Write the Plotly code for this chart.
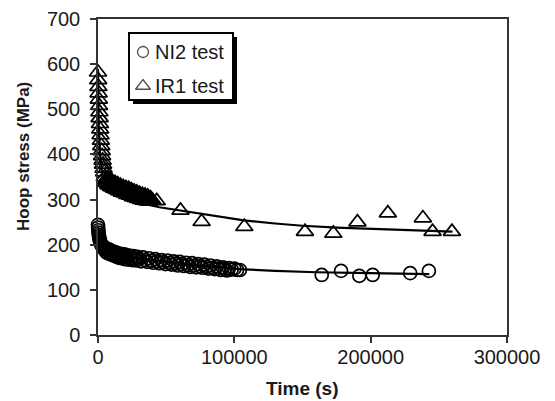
import plotly.graph_objects as go

# ---------------- data ----------------
# NI2 test (circles)
ni2_time = [0, 100, 250, 400, 600, 800, 1000, 1300, 1600, 2000, 2500, 3000, 3600, 4300,
            5000, 5500, 6000, 6500, 7000, 7500, 8000, 9000, 9500, 10000, 11000, 11500,
            12000, 13000, 13500, 14000, 15000, 15500, 16000, 17000, 17500, 18000,
            19000, 19500, 20000, 21000, 22000, 23000, 24000, 25000, 26000, 27000,
            28000, 29000, 30000, 31500, 33000, 34500, 36000, 37500, 39000, 40500,
            42000, 43500, 45000, 46500, 48000, 49500, 51000, 52500, 54000, 55500,
            57000, 58500, 60000, 61500, 63000, 64500, 66000, 67500, 69000, 70500,
            72000, 73500, 75000, 76500, 78000, 79500, 81000, 82500, 84000, 85500,
            87000, 88500, 90000, 91500, 93000, 94500, 96000, 98000, 100000, 102000,
            104100, 164100, 178300, 191700, 201500, 229000, 242700]
ni2_stress = [244, 238, 232, 227, 222, 218, 214, 210, 207, 203, 200, 197, 194, 191,
              194, 186, 190, 182, 188, 181, 190, 183, 178, 186, 180, 176,
              184, 178, 173, 182, 176, 171, 180, 174, 170, 179,
              173, 168, 178, 172, 167, 176, 170, 166, 175, 169,
              165, 173, 168, 163, 172, 166, 162, 170, 164, 160,
              168, 163, 159, 166, 161, 157, 165, 160, 156, 163,
              158, 154, 162, 157, 153, 160, 155, 151, 159, 154,
              150, 157, 152, 149, 156, 151, 147, 154, 149, 146,
              152, 147, 144, 150, 146, 143, 148, 145, 147, 144,
              144, 133, 142, 131, 133, 137, 142]

# IR1 test (triangles)
ir1_time = [0, 150, 300, 450, 600, 800, 1000, 1200, 1400, 1600, 1850, 2100, 2400, 2700,
            3000, 3350, 3700, 4100, 4500,
            5000, 5500, 6000, 6500, 7000, 7500, 8000, 8500, 9000, 9500, 10000, 10500,
            11000, 11500, 12000, 12500, 13000, 13500, 14000, 14500, 15000, 15500,
            16000, 16500, 17000, 17500, 18000, 18500, 19000, 19500, 20000, 20500,
            21000, 21500, 22000, 22500, 23000, 23500, 24000, 24500, 25000, 25500,
            26000, 26500, 27000, 27500, 28000, 28500, 29000, 29500, 30000, 30500,
            31000, 31500, 32000, 32500, 33000, 33500, 34000, 34500, 35000, 35500,
            36000, 36500, 37000, 37500, 38000, 38500, 39000, 40000,
            43100, 60500, 76000, 107300, 151800, 172600, 190300, 212600, 238300,
            245400, 259600]
ir1_stress = [582, 565, 550, 536, 522, 508, 494, 481, 468, 456, 443, 431, 419, 408,
              397, 387, 378, 369, 361,
              350, 342, 338, 347, 343, 334, 332, 343, 339, 329, 328, 340,
              335, 326, 325, 337, 332, 323, 322, 334, 329, 319,
              320, 331, 326, 316, 318, 328, 324, 314, 316, 326,
              322, 311, 314, 324, 319, 309, 312, 321, 317, 306,
              309, 318, 314, 304, 307, 316, 312, 302, 305, 313,
              309, 300, 304, 311, 307, 298, 302, 309, 305, 297,
              303, 307, 301, 296, 300, 303, 299, 298,
              297, 276, 251, 240, 229, 225, 250, 270, 259,
              229, 229]

# fitted curves
ni2_fit_time = [0, 500, 1500, 3000, 6000, 10000, 20000, 30000, 45000, 60000, 80000,
                104000, 130000, 160000, 200000, 243000]
ni2_fit_stress = [240, 222, 208, 198, 189, 183, 176, 170, 164, 158, 152,
                  146, 142, 139, 137, 135]
ir1_fit_time = [0, 500, 1500, 3000, 5000, 8000, 12000, 18000, 25000, 35000, 45000,
                60000, 75000, 90000, 107000, 130000, 150000, 175000, 200000, 225000, 260000]
ir1_fit_stress = [590, 470, 400, 360, 340, 328, 318, 308, 300, 290, 283,
                  276, 270, 262, 254, 247, 242, 238, 235, 232, 229]

x_ticks = [0, 100000, 200000, 300000]
y_ticks = [0, 100, 200, 300, 400, 500, 600, 700]
legend_labels = ["NI2 test", "IR1 test"]

# ---------------- figure ----------------
# the page body has an 8 px margin, so the figure is 8 px smaller and
# its margins are 8 px smaller on the left/top
OFF = 8
W, H = 555 - OFF, 401 - OFF
PL, PT, PR, PB = 98, 19, 507, 335          # plot area in page pixels
L, T = PL - OFF, PT - OFF
R = W - (PR - OFF)
B = H - (PB - OFF)
pw, ph = PR - PL, PB - PT


def px_x(p):
    return (p - PL) / pw


def px_y(p):
    return (PB - p) / ph


FONT = "Liberation Sans, Arial, sans-serif"
INK = "#1a1a1a"

fig = go.Figure()
fig.add_trace(go.Scatter(x=ni2_time, y=ni2_stress, mode="markers",
                         marker=dict(symbol="circle-open", size=13, color="black",
                                     line=dict(width=1.7, color="black")),
                         cliponaxis=False, showlegend=False))
fig.add_trace(go.Scatter(x=ir1_time, y=ir1_stress, mode="markers",
                         marker=dict(symbol="triangle-up-open", size=15, color="black",
                                     line=dict(width=1.7, color="black")),
                         cliponaxis=False, showlegend=False))
fig.add_trace(go.Scatter(x=ni2_fit_time, y=ni2_fit_stress, mode="lines",
                         line=dict(color="black", width=2.2), showlegend=False))
fig.add_trace(go.Scatter(x=ir1_fit_time, y=ir1_fit_stress, mode="lines",
                         line=dict(color="black", width=2.2), showlegend=False))

# legend symbols on an invisible overlay axis (0..1 = plot area)
fig.add_trace(go.Scatter(x=[px_x(143), px_x(143)], y=[px_y(52), px_y(86)],
                         mode="markers", xaxis="x2", yaxis="y2",
                         marker=dict(symbol=["circle-open", "triangle-up-open"],
                                     size=[11, 13], color="black",
                                     line=dict(width=1.3, color="black")),
                         cliponaxis=False, showlegend=False, hoverinfo="skip"))

axis_common = dict(showline=True, linecolor="#333333", linewidth=1.5, mirror=True,
                   ticks="outside", ticklen=6, tickwidth=1.5, tickcolor="#333333",
                   showgrid=False, zeroline=False,
                   tickfont=dict(family=FONT, size=20, color=INK))

fig.update_layout(
    width=W, height=H,
    margin=dict(l=L, r=R, t=T, b=B, autoexpand=False),
    paper_bgcolor="white", plot_bgcolor="white",
    showlegend=False,
    xaxis=dict(range=[0, 300000], tickvals=x_ticks, tickformat="d",
               ticklabelstandoff=-3, **axis_common),
    yaxis=dict(range=[0, 700], tickvals=y_ticks, ticklabelstandoff=6, **axis_common),
    xaxis2=dict(range=[0, 1], overlaying="x", visible=False),
    yaxis2=dict(range=[0, 1], overlaying="y", visible=False),
    shapes=[
        dict(type="rect", xref="paper", yref="paper",
             x0=px_x(133), x1=px_x(237), y0=px_y(104), y1=px_y(37),
             fillcolor="black", line=dict(width=0), layer="below"),
        dict(type="rect", xref="paper", yref="paper",
             x0=px_x(129), x1=px_x(233), y0=px_y(100), y1=px_y(33),
             fillcolor="white", line=dict(color="black", width=2), layer="below"),
    ],
    annotations=[
        dict(text="<b>Hoop stress (MPa)</b>", xref="paper", yref="paper",
             x=px_x(23), y=px_y(157), xanchor="center", yanchor="middle",
             textangle=-90, showarrow=False,
             font=dict(family=FONT, size=17, color=INK)),
        dict(text="<b>Time (s)</b>", xref="paper", yref="paper",
             x=px_x(302), y=px_y(388), xanchor="center", yanchor="middle",
             showarrow=False, font=dict(family=FONT, size=19, color=INK)),
        dict(text=legend_labels[0], xref="paper", yref="paper",
             xanchor="left", yanchor="middle",
             x=px_x(153), y=px_y(52), showarrow=False,
             font=dict(family=FONT, size=20, color=INK)),
        dict(text=legend_labels[1], xref="paper", yref="paper",
             xanchor="left", yanchor="middle",
             x=px_x(153), y=px_y(86), showarrow=False,
             font=dict(family=FONT, size=20, color=INK)),
    ],
)

fig.write_html("out.html")
